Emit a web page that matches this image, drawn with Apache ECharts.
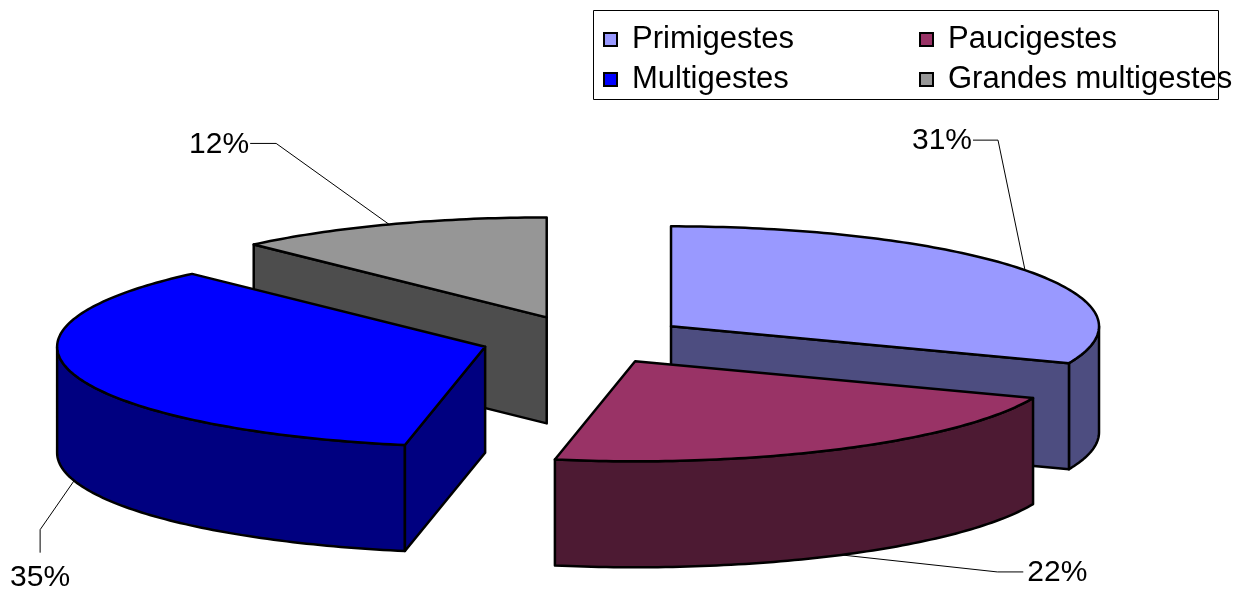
<!DOCTYPE html>
<html lang="fr">
<head>
    <meta charset="UTF-8">
    <title>Gestité</title>
    <script src="https://cdn.jsdelivr.net/npm/echarts@6/dist/echarts.min.js"></script>
    <style>
        body { margin: 0; background: #fff; }
    </style>
</head>
<body>
    <div id="main" style="width: 1259px; height: 594px;"></div>
    <script type="text/javascript">
        // donnees
        var categories = ['Primigestes', 'Paucigestes', 'Multigestes', 'Grandes multigestes'];
        var values = [31, 22, 35, 12];

        // couleurs (dessus / cote)
        var topColors = ['#9999FF', '#993366', '#0000FF', '#969696'];
        var sideColors = ['#4D4D80', '#4D1A33', '#000080', '#4D4D4D'];

        // lignes de rappel des etiquettes : coude puis queue
        var labelElbow = [[-27, -130], [156, 17], [-34, 49], [-113, -81]];
        var labelTail = [[-25, 0], [26, 0], [0, 23], [-26, 0]];

        // camembert 3D eclate
        var CX = 585, CY = 340, RX = 428, RY = 100, DEPTH = 106, EXPLODE = 104;
        var FONT = '"Liberation Sans", Arial, sans-serif';

        var total = values.reduce(function (a, b) { return a + b; }, 0);
        var starts = [], ends = [];
        var acc = 0;
        values.forEach(function (v) {
            starts.push(acc / total * 360);
            acc += v;
            ends.push(acc / total * 360);
        });
        var rad = function (d) { return d * Math.PI / 180; };

        // ordre de dessin : du fond vers l'avant
        var order = values.map(function (v, i) { return i; }).sort(function (a, b) {
            var ma = (starts[a] + ends[a]) / 2, mb = (starts[b] + ends[b]) / 2;
            return -Math.cos(rad(ma)) + Math.cos(rad(mb));
        });
        var rank = [];
        order.forEach(function (idx, r) { rank[idx] = r; });

        function pt(cx, cy, deg, dy) {
            return [cx + RX * Math.sin(rad(deg)), cy - RY * Math.cos(rad(deg)) + (dy || 0)];
        }
        function arc(cx, cy, a0, a1, dy) {
            var pts = [];
            var n = Math.max(2, Math.ceil(Math.abs(a1 - a0)));
            for (var k = 0; k <= n; k++) {
                pts.push(pt(cx, cy, a0 + (a1 - a0) * k / n, dy));
            }
            return pts;
        }

        function renderSlice(params, api) {
            var i = params.seriesIndex;
            var a0 = starts[i], a1 = ends[i], mid = (a0 + a1) / 2;
            var cx = CX + EXPLODE * Math.sin(rad(mid));
            var cy = CY - EXPLODE * RY / RX * Math.cos(rad(mid));
            var base = rank[i] * 10;
            var lineStyle = { stroke: '#000', lineWidth: 2.5, lineJoin: 'round' };
            var children = [];

            function face(points, fill, z2) {
                children.push({
                    type: 'polygon',
                    shape: { points: points },
                    style: Object.assign({ fill: fill }, lineStyle),
                    z2: z2
                });
            }

            // cote exterieur (partie avant uniquement)
            var s0 = Math.max(a0, 90), s1 = Math.min(a1, 270);
            if (s1 > s0) {
                var upper = arc(cx, cy, s0, s1, 0);
                var lower = arc(cx, cy, s1, s0, DEPTH);
                face(upper.concat(lower), sideColors[i], base + 1);
            }
            // faces radiales visibles
            [[a0, a0 > 180 && a0 < 360], [a1, a1 > 0 && a1 < 180]].forEach(function (e) {
                if (!e[1]) return;
                var p = pt(cx, cy, e[0], 0);
                face([[cx, cy], p, [p[0], p[1] + DEPTH], [cx, cy + DEPTH]], sideColors[i], base + 2);
            });
            // dessus
            face([[cx, cy]].concat(arc(cx, cy, a0, a1, 0)), topColors[i], base + 3);

            // etiquette
            var front = mid > 90 && mid < 270;
            var anchor = pt(cx, cy, mid, front ? DEPTH : 0);
            var elbow = [anchor[0] + labelElbow[i][0], anchor[1] + labelElbow[i][1]];
            var tail = [elbow[0] + labelTail[i][0], elbow[1] + labelTail[i][1]];
            children.push({
                type: 'polyline',
                shape: { points: [anchor, elbow, tail] },
                style: { stroke: '#000', lineWidth: 1, fill: null },
                z2: 100
            });
            var tx = tail[0], ty = tail[1], align = 'center', valign = 'middle';
            if (labelTail[i][0] < 0) { tx -= 1; ty += 1; align = 'right'; }
            else if (labelTail[i][0] > 0) { tx += 4; ty += 1; align = 'left'; }
            else { ty += 10; valign = 'top'; }
            children.push({
                type: 'text',
                style: {
                    text: Math.round(api.value(0) / total * 100) + '%',
                    x: tx, y: ty,
                    align: align, verticalAlign: valign,
                    fill: '#000', fontSize: 30, fontFamily: FONT
                },
                z2: 101
            });

            return { type: 'group', children: children };
        }

        var mychart = echarts.init(document.getElementById('main'));
        var series = categories.map(function (name, i) {
            return {
                type: 'custom',
                name: name,
                coordinateSystem: 'none',
                silent: true,
                itemStyle: { color: topColors[i] },
                data: [values[i]],
                renderItem: renderSlice
            };
        });

        var option = {
            backgroundColor: '#fff',
            animation: false,
            // cadre de la legende (le texte deborde comme dans l'original)
            graphic: [{
                type: 'rect',
                shape: { x: 593.5, y: 10.5, width: 625, height: 89 },
                style: { fill: null, stroke: '#000', lineWidth: 1 },
                silent: true
            }],
            legend: {
                left: 593,
                top: 10,
                width: 660,
                orient: 'horizontal',
                padding: [14, 0, 8, 10],
                itemGap: 9,
                itemWidth: 13,
                itemHeight: 13,
                icon: 'rect',
                selectedMode: false,
                itemStyle: { borderColor: '#000', borderWidth: 2 },
                formatter: '{a|{name}}',
                textStyle: {
                    color: '#000',
                    fontSize: 31,
                    fontFamily: FONT,
                    rich: {
                        a: {
                            fontSize: 31,
                            fontFamily: FONT,
                            color: '#000',
                            width: 278,
                            lineHeight: 26,
                            padding: [0, 0, 0, 10]
                        }
                    }
                },
                data: categories
            },
            series: series
        };
        mychart.setOption(option);
    </script>
</body>
</html>
